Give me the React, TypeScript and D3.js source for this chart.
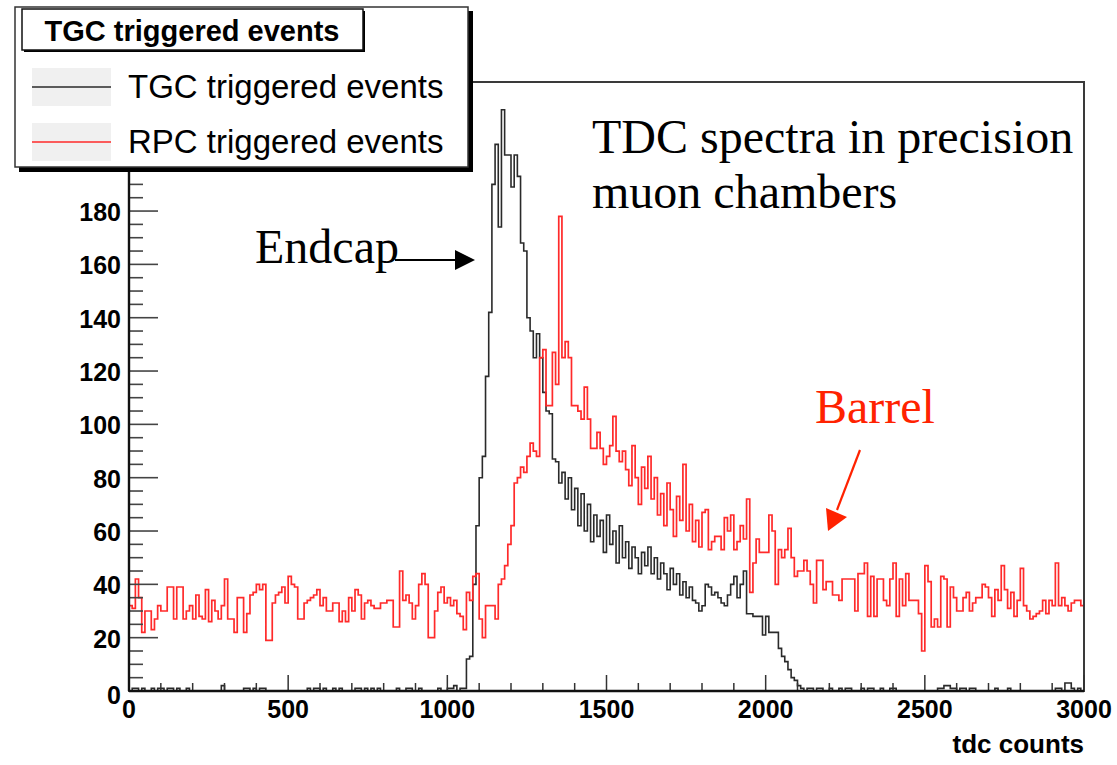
import React from 'react';
import * as d3 from 'd3';

// bin width in tdc counts (histogram of 300 bins over 0..3000)
const BIN_WIDTH = 10;

// TGC triggered events (black), one value per 10-count bin
const tgcCounts: number[] = [
  0, 1, 1, 0, 1, 0, 0, 1, 0, 1,
  1, 0, 1, 1, 0, 1, 0, 0, 1, 0,
  0, 0, 0, 0, 0, 0, 0, 0, 0, 2,
  0, 0, 0, 0, 0, 0, 1, 1, 0, 1,
  0, 1, 1, 0, 0, 0, 0, 0, 0, 0,
  0, 0, 0, 0, 0, 0, 1, 0, 1, 1,
  0, 1, 0, 0, 1, 0, 1, 0, 0, 0,
  0, 1, 1, 0, 1, 0, 1, 0, 1, 0,
  0, 0, 0, 0, 1, 0, 0, 1, 1, 0,
  0, 1, 0, 0, 0, 0, 0, 1, 0, 0,
  1, 1, 2, 0, 1, 1, 12, 13, 40, 62,
  80, 88, 118, 142, 190, 205, 174, 218, 201, 201,
  189, 201, 193, 168, 165, 140, 135, 125, 134, 125,
  112, 105, 104, 87, 86, 78, 82, 72, 80, 68,
  76, 62, 74, 60, 70, 56, 66, 58, 64, 52,
  66, 55, 60, 48, 62, 50, 56, 46, 54, 50,
  44, 52, 47, 54, 44, 50, 42, 48, 44, 38,
  46, 40, 44, 36, 41, 35, 39, 34, 33, 30,
  32, 40, 39, 36, 37, 35, 33, 32, 36, 40,
  43, 35, 40, 45, 29, 29, 28, 28, 28, 21,
  28, 22, 22, 22, 16, 13, 11, 8, 5, 4,
  2, 1, 0, 1, 1, 0, 1, 1, 0, 0,
  1, 0, 0, 1, 0, 1, 1, 0, 0, 0,
  1, 0, 1, 1, 0, 0, 1, 0, 0, 1,
  1, 0, 0, 0, 0, 0, 0, 0, 0, 0,
  0, 0, 0, 0, 1, 1, 2, 2, 1, 1,
  0, 1, 1, 0, 1, 1, 0, 0, 0, 0,
  0, 0, 1, 0, 0, 0, 1, 0, 0, 0,
  0, 0, 0, 0, 0, 0, 0, 0, 0, 0,
  0, 1, 1, 0, 3, 3, 1, 0, 1, 0,
];

// RPC triggered events (red), one value per 10-count bin
const rpcCounts: number[] = [
  32, 31, 42, 35, 22, 30, 30, 23, 27, 32,
  30, 30, 39, 39, 27, 39, 39, 27, 30, 32,
  27, 36, 28, 27, 38, 26, 34, 30, 27, 32,
  42, 27, 27, 22, 35, 35, 22, 29, 36, 37,
  40, 38, 40, 19, 19, 33, 36, 37, 39, 33,
  43, 40, 39, 27, 27, 33, 34, 35, 36, 38,
  32, 35, 30, 30, 33, 33, 26, 30, 26, 35,
  30, 38, 36, 27, 33, 34, 32, 31, 31, 33,
  33, 34, 34, 24, 24, 45, 34, 36, 33, 27,
  32, 40, 44, 40, 20, 20, 30, 37, 39, 33,
  35, 32, 34, 29, 28, 23, 37, 34, 43, 44,
  27, 20, 32, 32, 32, 27, 40, 42, 47, 55,
  62, 78, 80, 84, 82, 88, 93, 90, 88, 125,
  128, 107, 107, 127, 115, 178, 125, 131, 125, 107,
  107, 105, 102, 114, 102, 91, 91, 97, 91, 85,
  88, 92, 103, 90, 86, 90, 83, 77, 92, 80,
  70, 84, 76, 88, 72, 80, 66, 74, 62, 78,
  68, 58, 73, 64, 85, 60, 70, 56, 64, 54,
  67, 68, 53, 56, 58, 58, 53, 65, 60, 66,
  53, 56, 62, 57, 72, 37, 48, 57, 52, 52,
  52, 66, 60, 40, 53, 50, 53, 61, 50, 43,
  45, 45, 49, 45, 40, 33, 49, 49, 38, 41,
  41, 36, 36, 34, 42, 42, 42, 42, 30, 44,
  44, 48, 28, 43, 28, 42, 42, 34, 32, 42,
  48, 28, 42, 32, 44, 34, 34, 34, 29, 15,
  47, 41, 24, 27, 24, 43, 42, 24, 39, 35,
  30, 30, 35, 37, 30, 33, 35, 35, 40, 39,
  35, 28, 38, 34, 47, 38, 31, 37, 28, 34,
  46, 32, 30, 27, 28, 29, 30, 34, 29, 34,
  32, 48, 32, 35, 32, 30, 33, 34, 34, 32,
];

const xTickValues = [0, 500, 1000, 1500, 2000, 2500, 3000];
const yTickValues = [0, 20, 40, 60, 80, 100, 120, 140, 160, 180];
const xDomain: [number, number] = [0, 3000];
const yDomain: [number, number] = [0, 228.4];
const legendTitle = 'TGC triggered events';
const legendEntries = [
  { label: 'TGC triggered events', color: '#2a2a2a' },
  { label: 'RPC triggered events', color: '#ff2a2a' },
];
const xAxisTitle = 'tdc counts';

const SANS = '"Liberation Sans", Arial, Helvetica, sans-serif';
const SERIF = '"Liberation Serif", "Times New Roman", Times, serif';

export default function App() {
  const W = 1117;
  const H = 765;
  const plot = { left: 129, right: 1084, top: 82, bottom: 691 };

  const x = d3.scaleLinear().domain(xDomain).range([plot.left, plot.right]);
  const y = d3.scaleLinear().domain(yDomain).range([plot.bottom, plot.top]);

  const histPath = (counts: number[]) => {
    const pts: [number, number][] = counts.map((c, i) => [i * BIN_WIDTH, c]);
    pts.push([counts.length * BIN_WIDTH, counts[counts.length - 1]]);
    return d3
      .line<[number, number]>()
      .x((d) => x(d[0]))
      .y((d) => y(d[1]))
      .curve(d3.curveStepAfter)(pts) as string;
  };

  const xMinor = d3.range(xDomain[0], xDomain[1] + 1, 100);
  const yMinor = d3.range(0, yDomain[1], 5);

  return (
    <svg
      width={W}
      height={H}
      viewBox={`0 0 ${W} ${H}`}
      style={{ position: 'absolute', left: 0, top: 0, background: '#fff' }}
    >
      <rect x={0} y={0} width={W} height={H} fill="#fff" />

      {/* histograms */}
      <path d={histPath(tgcCounts)} fill="none" stroke="#2a2a2a" strokeWidth={1.6} />
      <path d={histPath(rpcCounts)} fill="none" stroke="#ff2a2a" strokeWidth={1.7} />

      {/* frame */}
      <rect
        x={plot.left}
        y={plot.top}
        width={plot.right - plot.left}
        height={plot.bottom - plot.top}
        fill="none"
        stroke="#3a3a3a"
        strokeWidth={2}
      />

      {/* y axis ticks */}
      {yMinor.map((v) => {
        const major = v % 20 === 0;
        return (
          <line
            key={'ym' + v}
            x1={plot.left}
            x2={plot.left + (major ? 29 : 14)}
            y1={y(v)}
            y2={y(v)}
            stroke="#444"
            strokeWidth={1.6}
          />
        );
      })}
      {/* x axis ticks */}
      {xMinor.map((v) => {
        const major = v % 500 === 0;
        return (
          <line
            key={'xm' + v}
            x1={x(v)}
            x2={x(v)}
            y1={plot.bottom}
            y2={plot.bottom - (major ? 16 : 8)}
            stroke="#333"
            strokeWidth={1.5}
          />
        );
      })}
      <line x1={plot.left} x2={plot.left} y1={plot.top} y2={plot.bottom} stroke="#111" strokeWidth={2.4} />
      <line x1={plot.left} x2={plot.right} y1={plot.bottom} y2={plot.bottom} stroke="#111" strokeWidth={2.4} />

      {/* tick labels */}
      {yTickValues.map((v) => (
        <text
          key={'yl' + v}
          x={121}
          y={y(v) + (v === 0 ? 4 : 1)}
          textAnchor="end"
          dominantBaseline="central"
          fontFamily={SANS}
          fontWeight="bold"
          fontSize={25}
          fill="#000"
        >
          {v}
        </text>
      ))}
      {xTickValues.map((v) => (
        <text
          key={'xl' + v}
          x={x(v)}
          y={718}
          textAnchor="middle"
          fontFamily={SANS}
          fontWeight="bold"
          fontSize={25}
          fill="#000"
        >
          {v}
        </text>
      ))}
      <text x={plot.right} y={753} textAnchor="end" fontFamily={SANS} fontWeight="bold" fontSize={26} fill="#000">
        {xAxisTitle}
      </text>

      {/* legend */}
      <rect x={19} y={11} width={454} height={161} fill="#000" />
      <rect x={15} y={7} width={453} height={160} fill="#fff" stroke="#333" strokeWidth={1.5} />
      <rect x={24} y={11} width={341} height={41} fill="#000" />
      <rect x={22} y={9} width={341} height={41} fill="#fff" stroke="#111" strokeWidth={1.5} />
      <text x={192} y={41} textAnchor="middle" fontFamily={SANS} fontWeight="bold" fontSize={29} fill="#000">
        {legendTitle}
      </text>
      {legendEntries.map((e, i) => {
        const cy = 87 + i * 55;
        return (
          <g key={'le' + i}>
            <rect x={32} y={cy - 19} width={79} height={38} fill="#f0f0f0" />
            <line x1={32} x2={111} y1={cy} y2={cy} stroke={e.color} strokeWidth={1.6} />
            <text x={128} y={cy + 11} fontFamily={SANS} fontSize={33} fill="#000">
              {e.label}
            </text>
          </g>
        );
      })}

      {/* annotations */}
      <text x={592} y={153} fontFamily={SERIF} fontSize={48} fill="#000">
        TDC spectra in precision
      </text>
      <text x={592} y={208} fontFamily={SERIF} fontSize={48} fill="#000">
        muon chambers
      </text>
      <text x={255} y={263} fontFamily={SERIF} fontSize={48} fill="#000">
        Endcap
      </text>
      <line x1={395} x2={458} y1={260} y2={260} stroke="#000" strokeWidth={2} />
      <polygon points="455,250 475,260 455,270" fill="#000" />

      <text x={815} y={423} fontFamily={SERIF} fontSize={48} fill="#ff2200">
        Barrel
      </text>
      <line x1={860} x2={837} y1={450} y2={510} stroke="#ff2200" strokeWidth={2.2} />
      <polygon points="828,531 826,508 847,517" fill="#ff2200" />
    </svg>
  );
}
